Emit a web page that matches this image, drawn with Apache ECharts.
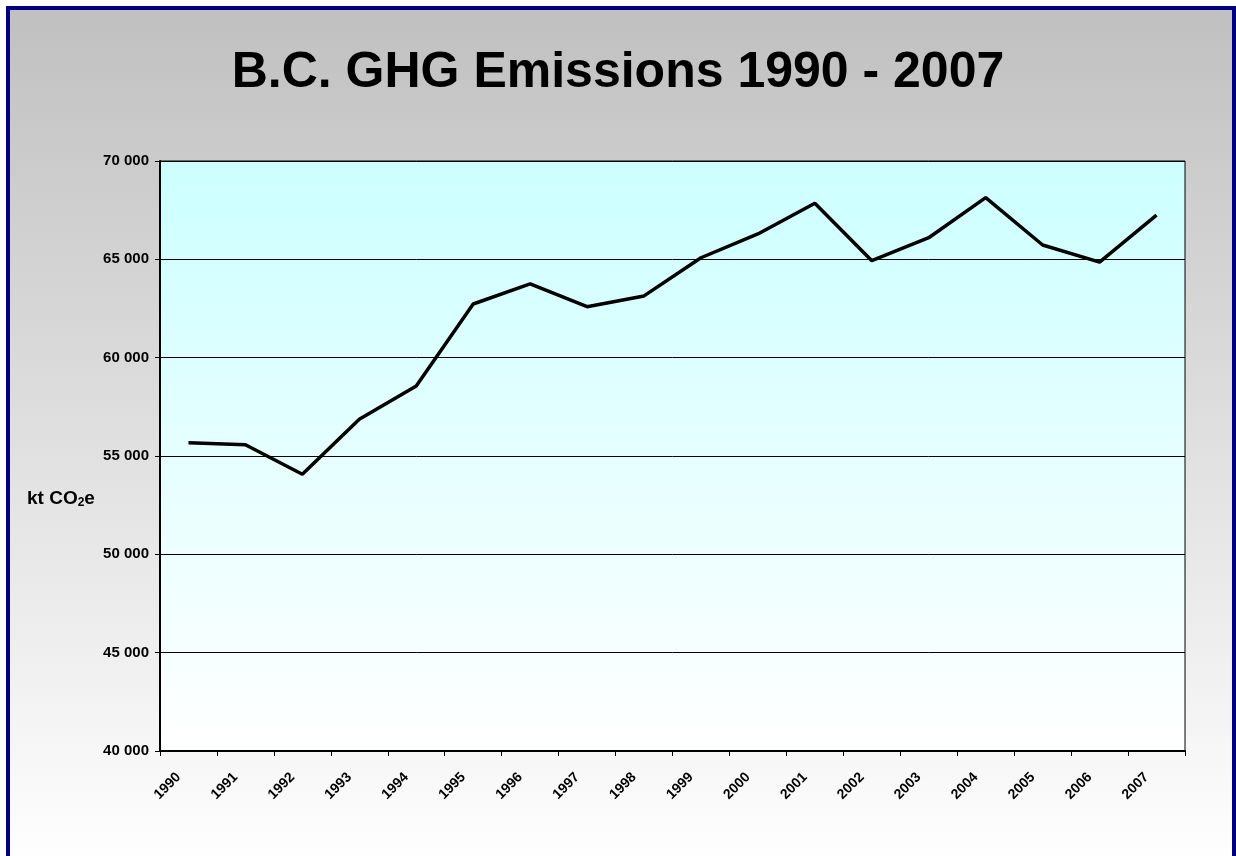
<!DOCTYPE html>
<html>
<head>
<meta charset="utf-8">
<script src="https://cdn.jsdelivr.net/npm/echarts@6/dist/echarts.min.js"></script>
<style>
  html, body { margin: 0; padding: 0; }
  #chart { width: 1236px; height: 856px; }
</style>
</head>
<body>
<div id="chart"></div>
<script>
// years on the x axis
var years = ["1990", "1991", "1992", "1993", "1994", "1995", "1996", "1997", "1998",
  "1999", "2000", "2001", "2002", "2003", "2004", "2005", "2006", "2007"];
// B.C. GHG emissions, kt CO2e
var emissions = [55680, 55570, 54070, 56870, 58560, 62730, 63750, 62590, 63140,
  65080, 66290, 67850, 64930, 66100, 68140, 65730, 64860, 67250];
var yMin = 40000;
var yMax = 70000;
var yStep = 5000;

var chart = echarts.init(document.getElementById("chart"));
var font = "Liberation Sans, Arial, sans-serif";

chart.setOption({
  backgroundColor: "#ffffff",
  animation: false,
  graphic: [
    {
      // outer frame with grey -> white fill
      type: "rect",
      z: -10,
      shape: { x: 8, y: 8, width: 1226, height: 860 },
      style: {
        fill: new echarts.graphic.LinearGradient(0, 0, 0, 1, [
          { offset: 0, color: "#c0c0c0" },
          { offset: 1, color: "#ffffff" },
        ]),
        stroke: "#000080",
        lineWidth: 4,
      },
    },
    {
      type: "text",
      left: 27,
      top: 489,
      style: {
        text: "kt CO{sub|2}e",
        font: "bold 19px " + font,
        fill: "#000",
        rich: {
          sub: { fontSize: 12, fontWeight: "bold", fontFamily: font, padding: [8, 0, 0, 0] },
        },
      },
    },
  ],
  title: {
    text: "B.C. GHG Emissions 1990 - 2007",
    left: "center",
    top: 43,
    textStyle: {
      fontFamily: font,
      fontSize: 50,
      fontWeight: "bold",
      color: "#000",
    },
  },
  grid: {
    left: 160,
    right: 51,
    top: 161,
    bottom: 105,
    show: true,
    borderColor: "#000",
    borderWidth: 1,
    backgroundColor: new echarts.graphic.LinearGradient(0, 0, 0, 1, [
      { offset: 0, color: "#ccffff" },
      { offset: 1, color: "#ffffff" },
    ]),
  },
  xAxis: {
    type: "category",
    data: years,
    boundaryGap: true,
    axisLine: { lineStyle: { color: "#000", width: 2 } },
    axisTick: { show: true, length: 5, lineStyle: { color: "#000", width: 1 } },
    axisLabel: {
      rotate: 45,
      interval: 0,
      margin: 14,
      padding: [0, 14, 0, 0],
      fontFamily: font,
      fontSize: 14,
      fontWeight: "bold",
      color: "#000",
    },
    splitLine: { show: false },
  },
  yAxis: {
    type: "value",
    min: yMin,
    max: yMax,
    interval: yStep,
    axisLine: { show: true, lineStyle: { color: "#000", width: 2 } },
    axisTick: { show: true, length: 5, lineStyle: { color: "#000" } },
    axisLabel: {
      margin: 11,
      fontFamily: font,
      fontSize: 15,
      fontWeight: "bold",
      color: "#000",
      formatter: function (v) {
        // space as thousands separator
        return String(v).replace(/\B(?=(\d{3})+(?!\d))/g, " ");
      },
    },
    splitLine: { show: true, lineStyle: { color: "#000", width: 1 } },
  },
  series: [
    {
      name: "Emissions",
      type: "line",
      data: emissions,
      symbol: "none",
      lineStyle: { color: "#000", width: 3.5 },
    },
  ],
});
</script>
</body>
</html>
